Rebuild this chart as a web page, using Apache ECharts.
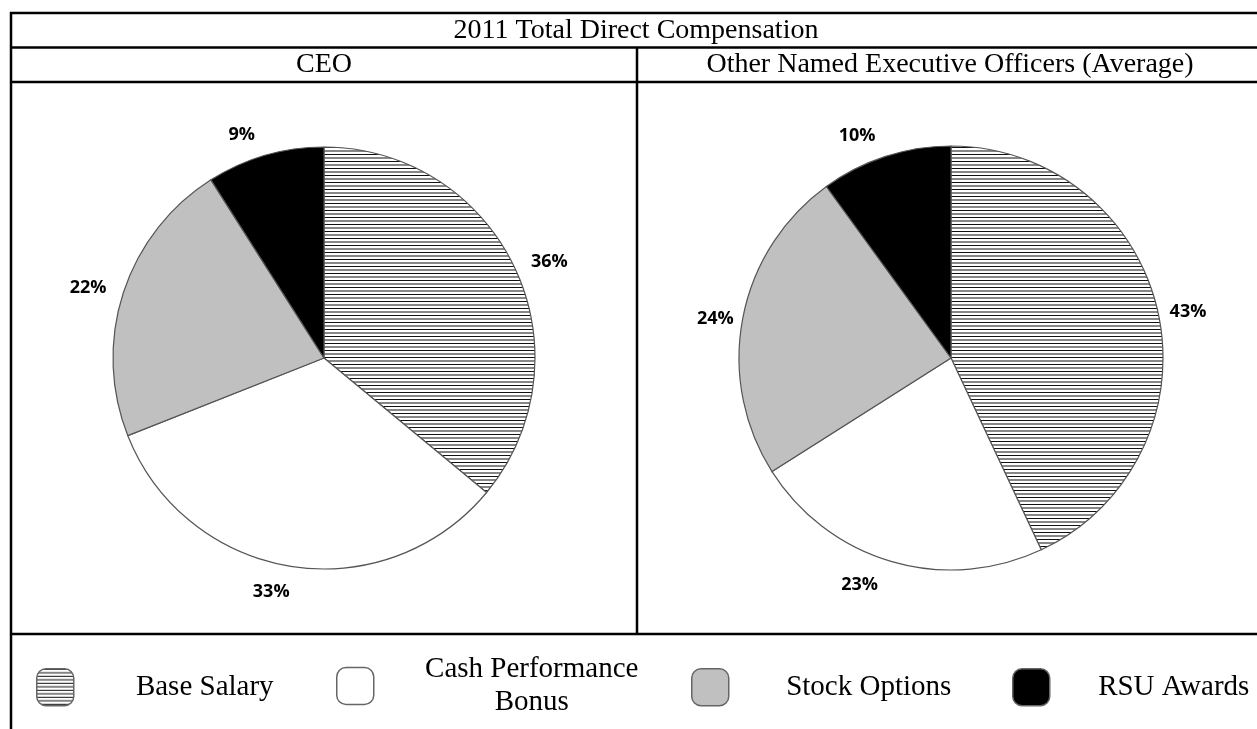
<!DOCTYPE html>
<html>
<head>
<meta charset="utf-8">
<script src="https://cdn.jsdelivr.net/npm/echarts@6/dist/echarts.min.js"></script>
<style>
  html, body { margin: 0; padding: 0; background: #fff; }
  #chart { width: 1257px; height: 729px; }
</style>
</head>
<body>
<div id="chart"></div>
<script>
// ---- data ----
const chartTitle = '2011 Total Direct Compensation';
const panelTitles = ['CEO', 'Other Named Executive Officers (Average)'];
const categories = ['Base Salary', 'Cash Performance Bonus', 'Stock Options', 'RSU Awards'];
const ceoValues = [36, 33, 22, 9];
const neoValues = [43, 23, 24, 10];

// ---- styling ----
const serif = '"Liberation Serif", "Times New Roman", serif';
const labelFont = '"Open Sans", "Noto Sans", sans-serif';

function hatchPattern() {
  const c = document.createElement('canvas');
  c.width = 8; c.height = 7;
  const g = c.getContext('2d');
  g.fillStyle = '#ffffff';
  g.fillRect(0, 0, 8, 7);
  g.fillStyle = '#111111';
  g.fillRect(0, 0, 8, 1);
  g.fillRect(0, 3.5, 8, 1);
  return { image: c, repeat: 'repeat' };
}
const fills = [hatchPattern(), '#ffffff', '#c0c0c0', '#000000'];

const panels = [
  { center: [324, 358], radius: 211, values: ceoValues,
    nudge: [[1, 9], [-14, -11], [0, 7], [-13, 15]] },
  { center: [951, 358], radius: 212, values: neoValues,
    nudge: [[-6, 8], [-22, -12], [9, 8], [-17, 15]] }
];

const series = [];
panels.forEach(function (p, pi) {
  series.push({
    type: 'pie',
    name: panelTitles[pi],
    center: p.center,
    radius: [0, p.radius],
    startAngle: 90,
    clockwise: true,
    silent: true,
    avoidLabelOverlap: false,
    label: { show: false },
    labelLine: { show: false },
    itemStyle: { borderColor: '#555555', borderWidth: 1.2 },
    emphasis: { disabled: true },
    data: categories.map(function (c, i) {
      return { name: c, value: p.values[i], itemStyle: { color: fills[i] } };
    })
  });
  // label ring (transparent) to place percentage labels outside the pie
  series.push({
    type: 'pie',
    center: p.center,
    radius: [p.radius + 23, p.radius + 45],
    startAngle: 90,
    clockwise: true,
    silent: true,
    avoidLabelOverlap: false,
    itemStyle: { color: 'rgba(0,0,0,0)', borderWidth: 0 },
    emphasis: { disabled: true },
    labelLine: { show: false },
    data: categories.map(function (c, i) {
      return {
        name: 'lbl ' + c,
        value: p.values[i],
        label: { offset: p.nudge[i] }
      };
    }),
    label: {
      show: true,
      position: 'inside',
      formatter: '{c}%',
      color: '#000',
      fontFamily: labelFont,
      fontWeight: 'bold',
      fontSize: 18
    }
  });
});

// legend: one component per entry, icon + centered text cell
const legendCells = [
  { left: 36, top: 668, width: 252 },
  { left: 336, top: 655, width: 306 },
  { left: 691, top: 668, width: 270 },
  { left: 1012, top: 668, width: 238 }
];
const legendText = { 'Cash Performance Bonus': 'Cash Performance\nBonus' };
const legends = categories.map(function (c, i) {
  return {
    data: [c],
    left: legendCells[i].left,
    top: legendCells[i].top,
    padding: 0,
    icon: 'roundRect',
    itemWidth: 37,
    itemHeight: 37,
    selectedMode: false,
    itemStyle: { borderColor: '#666666', borderWidth: 1.5 },
    formatter: function (name) {
      return '{t|' + (legendText[name] || name) + '}';
    },
    textStyle: {
      rich: {
        t: {
          width: legendCells[i].width,
          align: 'center',
          fontFamily: serif,
          fontSize: 29,
          lineHeight: 33,
          color: '#000'
        }
      }
    }
  };
});

// table frame and headings
const lw = 2.5;
function hline(y, x1, x2) {
  return { type: 'line', shape: { x1: x1, y1: y, x2: x2, y2: y }, style: { stroke: '#000', lineWidth: lw }, silent: true };
}
function vline(x, y1, y2) {
  return { type: 'line', shape: { x1: x, y1: y1, x2: x, y2: y2 }, style: { stroke: '#000', lineWidth: lw }, silent: true };
}
function heading(text, x, y) {
  return {
    type: 'text', x: x, y: y, silent: true,
    style: { text: text, align: 'center', verticalAlign: 'middle', font: '28px ' + serif, fill: '#000' }
  };
}
const graphics = [
  hline(13, 10, 1257),
  hline(47.5, 10, 1257),
  hline(82, 10, 1257),
  hline(634, 10, 1257),
  vline(11, 12, 729),
  vline(637, 47, 634),
  heading(chartTitle, 636, 31),
  heading(panelTitles[0], 324, 65),
  heading(panelTitles[1], 950, 65)
];

const chart = echarts.init(document.getElementById('chart'), null, { renderer: 'canvas' });
chart.setOption({
  backgroundColor: '#ffffff',
  animation: false,
  legend: legends,
  graphic: graphics,
  series: series
});
</script>
</body>
</html>
